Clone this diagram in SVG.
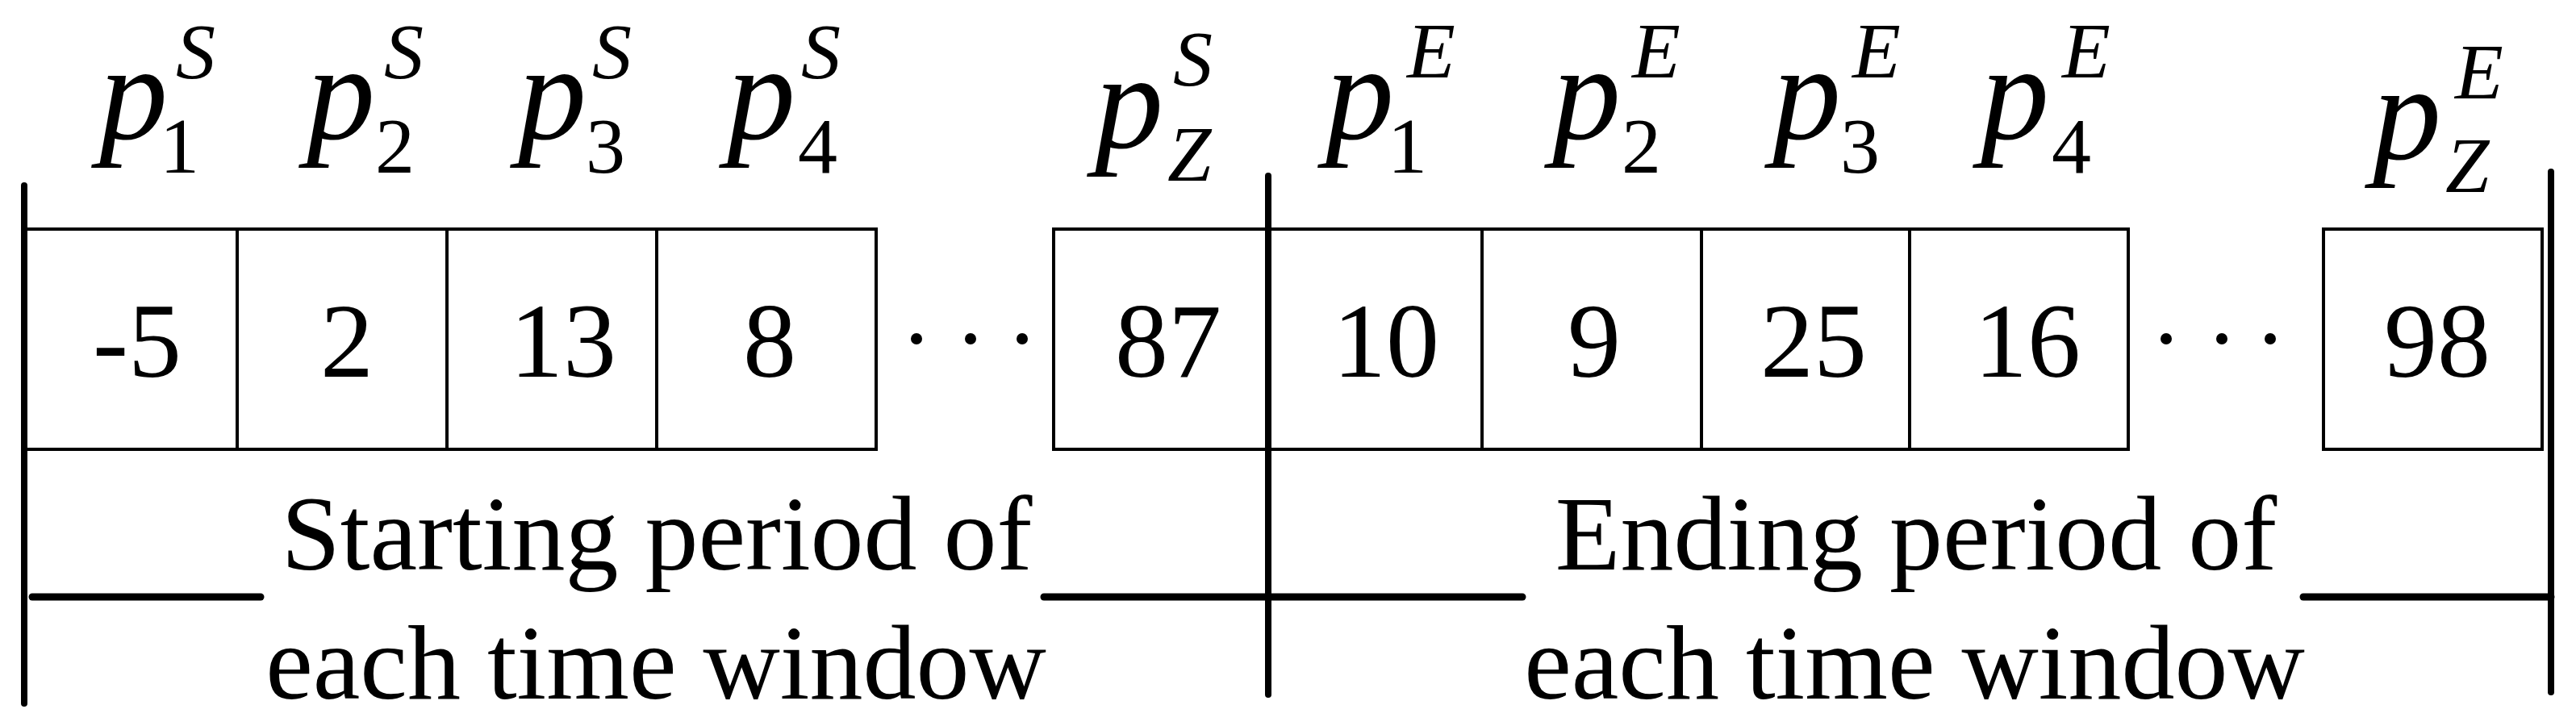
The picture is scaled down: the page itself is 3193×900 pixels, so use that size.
<svg xmlns="http://www.w3.org/2000/svg" width="3193" height="900" viewBox="0 0 3193 900">
<style>
.cell{fill:#fff;stroke:#000;stroke-width:4}
.num{font-family:"Liberation Serif","Times New Roman",serif;font-size:132px;text-anchor:middle;fill:#000}
.p{font-family:"Liberation Serif","Times New Roman",serif;font-style:italic;font-size:170px;fill:#000}
.sup{font-family:"Liberation Serif","Times New Roman",serif;font-style:italic;font-size:98px;fill:#000}
.sub{font-family:"Liberation Serif","Times New Roman",serif;font-size:98px;fill:#000}
.subi{font-family:"Liberation Serif","Times New Roman",serif;font-style:italic;font-size:98px;fill:#000}
.lbl{font-family:"Liberation Serif","Times New Roman",serif;font-size:132px;text-anchor:middle;fill:#000}
.thick{stroke:#000;stroke-width:8;stroke-linecap:round;fill:none}
.hbar{stroke:#000;stroke-width:9;stroke-linecap:round;fill:none}
.dot{fill:#000}
</style>
<rect width="3193" height="900" fill="#fff"/>

<g id="cells-start">
  <g id="cS1"><rect class="cell" x="30" y="284" width="264" height="273"/><text class="num" x="170" y="467">-5</text></g>
  <g id="cS2"><rect class="cell" x="294" y="284" width="260" height="273"/><text class="num" x="430" y="467">2</text></g>
  <g id="cS3"><rect class="cell" x="554" y="284" width="260" height="273"/><text class="num" x="698" y="467">13</text></g>
  <g id="cS4"><rect class="cell" x="814" y="284" width="272" height="273"/><text class="num" x="954" y="467">8</text></g>
  <g id="cSZ"><rect class="cell" x="1306" y="284" width="266" height="273"/><text class="num" x="1448" y="467">87</text></g>
</g>
<g id="cells-end">
  <g id="cE1"><rect class="cell" x="1572" y="284" width="265" height="273"/><text class="num" x="1718" y="467">10</text></g>
  <g id="cE2"><rect class="cell" x="1837" y="284" width="272" height="273"/><text class="num" x="1976" y="467">9</text></g>
  <g id="cE3"><rect class="cell" x="2109" y="284" width="258" height="273"/><text class="num" x="2248" y="467">25</text></g>
  <g id="cE4"><rect class="cell" x="2367" y="284" width="271" height="273"/><text class="num" x="2513" y="467">16</text></g>
  <g id="cEZ"><rect class="cell" x="2880" y="284" width="271" height="273"/><text class="num" x="3021" y="467">98</text></g>
</g>

<g id="ellipses">
  <circle class="dot" cx="1136" cy="420" r="7"/>
  <circle class="dot" cx="1203" cy="420" r="7"/>
  <circle class="dot" cx="1267" cy="420" r="7"/>
  <circle class="dot" cx="2685" cy="420" r="7"/>
  <circle class="dot" cx="2754" cy="420" r="7"/>
  <circle class="dot" cx="2814" cy="420" r="7"/>
</g>

<g id="labels-start">
  <g id="lS1"><text class="p" x="123" y="172">p</text><text class="sub" x="198" y="214">1</text><text class="sup" x="218" y="97">S</text></g>
  <g id="lS2"><text class="p" x="380" y="172">p</text><text class="sub" x="465" y="214">2</text><text class="sup" x="476" y="97">S</text></g>
  <g id="lS3"><text class="p" x="642" y="172">p</text><text class="sub" x="726" y="214">3</text><text class="sup" x="734" y="97">S</text></g>
  <g id="lS4"><text class="p" x="901" y="172">p</text><text class="sub" x="989" y="214">4</text><text class="sup" x="993" y="97">S</text></g>
  <g id="lSZ"><text class="p" x="1357" y="183">p</text><text class="subi" x="1447" y="224">Z</text><text class="sup" x="1454" y="106">S</text></g>
</g>
<g id="labels-end">
  <g id="lE1"><text class="p" x="1643" y="172">p</text><text class="sub" x="1720" y="214">1</text><text class="sup" x="1744" y="96">E</text></g>
  <g id="lE2"><text class="p" x="1924" y="172">p</text><text class="sub" x="2010" y="214">2</text><text class="sup" x="2023" y="96">E</text></g>
  <g id="lE3"><text class="p" x="2197" y="172">p</text><text class="sub" x="2281" y="214">3</text><text class="sup" x="2296" y="96">E</text></g>
  <g id="lE4"><text class="p" x="2455" y="172">p</text><text class="sub" x="2543" y="214">4</text><text class="sup" x="2556" y="96">E</text></g>
  <g id="lEZ"><text class="p" x="2941" y="197">p</text><text class="subi" x="3031" y="238">Z</text><text class="sup" x="3043" y="122">E</text></g>
</g>

<g id="connectors">
  <line class="thick" x1="30" y1="230" x2="30" y2="872"/>
  <line class="thick" x1="1572" y1="218" x2="1572" y2="861"/>
  <line class="thick" x1="3162" y1="213" x2="3162" y2="858"/>
  <line class="hbar" x1="40" y1="740" x2="323" y2="740"/>
  <line class="hbar" x1="1294" y1="740" x2="1887" y2="740"/>
  <line class="hbar" x1="2855" y1="740" x2="3162" y2="740"/>
</g>

<g id="period-start">
  <text class="lbl" x="814" y="706">Starting period of</text>
  <text class="lbl" x="813" y="866">each time window</text>
</g>
<g id="period-end">
  <text class="lbl" x="2375" y="706">Ending period of</text>
  <text class="lbl" x="2373" y="866">each time window</text>
</g>
</svg>
